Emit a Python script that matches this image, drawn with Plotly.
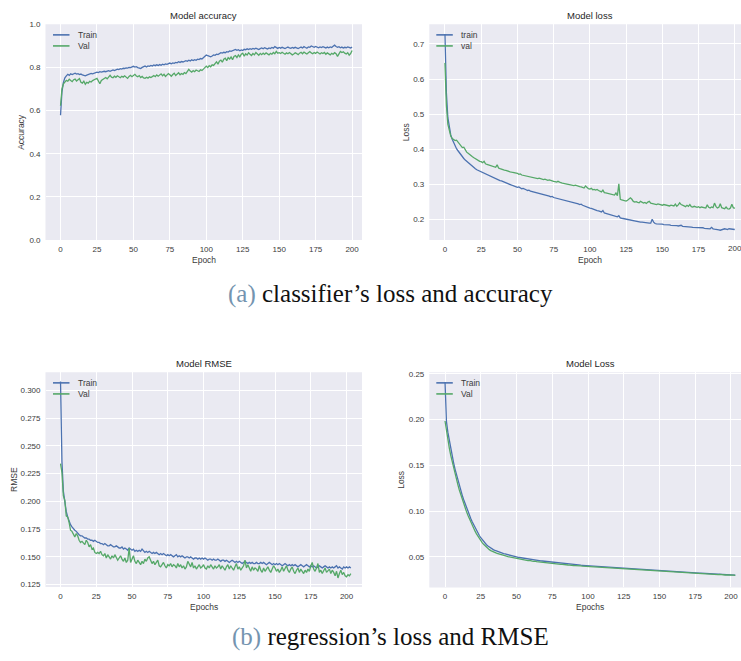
import plotly.graph_objects as go

W, H = 741, 661

# ---------------- data ----------------
acc_train = [
    0.578, 0.688, 0.731, 0.752, 0.761, 0.768, 0.763, 0.770, 0.767, 0.771,
    0.773, 0.769, 0.771, 0.767, 0.769, 0.765, 0.763, 0.761, 0.764, 0.766,
    0.769, 0.772, 0.770, 0.774, 0.775, 0.778, 0.776, 0.780, 0.778, 0.781,
    0.782, 0.780, 0.783, 0.785, 0.782, 0.786, 0.788, 0.785, 0.789, 0.792,
    0.790, 0.794, 0.792, 0.796, 0.795, 0.798, 0.797, 0.800, 0.799, 0.802,
    0.805, 0.801, 0.803, 0.799, 0.797, 0.795, 0.800, 0.803, 0.806, 0.802,
    0.807, 0.805, 0.809, 0.806, 0.811, 0.808, 0.812, 0.809, 0.813, 0.810,
    0.815, 0.812, 0.816, 0.814, 0.818, 0.820, 0.817, 0.821, 0.819, 0.823,
    0.821, 0.826, 0.823, 0.827, 0.825, 0.829, 0.831, 0.828, 0.833, 0.830,
    0.835, 0.832, 0.836, 0.833, 0.838, 0.836, 0.841, 0.839, 0.845, 0.850,
    0.857, 0.854, 0.851, 0.849, 0.853, 0.858, 0.856, 0.861, 0.859, 0.864,
    0.868, 0.866, 0.870, 0.868, 0.873, 0.871, 0.876, 0.874, 0.878, 0.880,
    0.883, 0.879, 0.882, 0.877, 0.881, 0.878, 0.884, 0.882, 0.886, 0.883,
    0.887, 0.884, 0.888, 0.885, 0.889, 0.886, 0.883, 0.887, 0.890, 0.886,
    0.891, 0.888, 0.885, 0.890, 0.887, 0.892, 0.889, 0.896, 0.891, 0.888,
    0.892, 0.889, 0.893, 0.890, 0.887, 0.891, 0.894, 0.890, 0.888, 0.892,
    0.889, 0.893, 0.891, 0.887, 0.891, 0.894, 0.890, 0.896, 0.892, 0.889,
    0.895, 0.893, 0.899, 0.896, 0.893, 0.897, 0.894, 0.891, 0.895, 0.892,
    0.896, 0.893, 0.890, 0.894, 0.891, 0.895, 0.892, 0.898, 0.903, 0.897,
    0.893, 0.896, 0.891, 0.894, 0.890, 0.893, 0.891, 0.895, 0.892, 0.890,
    0.894,
]
acc_val = [
    0.622, 0.700, 0.724, 0.733, 0.740, 0.736, 0.745, 0.739, 0.734, 0.743,
    0.746, 0.737, 0.741, 0.748, 0.731, 0.727, 0.736, 0.722, 0.731, 0.727,
    0.735, 0.732, 0.739, 0.741, 0.746, 0.749, 0.737, 0.724, 0.739, 0.745,
    0.751, 0.753, 0.747, 0.758, 0.763, 0.755, 0.752, 0.759, 0.754, 0.761,
    0.757, 0.752, 0.759, 0.755, 0.761, 0.756, 0.749, 0.758, 0.763, 0.757,
    0.764, 0.768, 0.760, 0.757, 0.762, 0.753, 0.758, 0.751, 0.749, 0.754,
    0.750, 0.756, 0.753, 0.759, 0.762, 0.757, 0.765, 0.759, 0.763, 0.770,
    0.761, 0.768, 0.758, 0.764, 0.771, 0.766, 0.759, 0.767, 0.773, 0.762,
    0.769, 0.775, 0.766, 0.772, 0.768, 0.776, 0.771, 0.779, 0.791, 0.783,
    0.778, 0.785, 0.780, 0.788, 0.783, 0.781, 0.789, 0.786, 0.792, 0.798,
    0.806, 0.799, 0.808, 0.803, 0.812, 0.809, 0.818, 0.826, 0.815, 0.829,
    0.834, 0.824, 0.838, 0.843, 0.831, 0.845, 0.839, 0.848, 0.836, 0.851,
    0.855, 0.846, 0.858, 0.849, 0.861, 0.866, 0.852, 0.863, 0.857, 0.868,
    0.861, 0.855, 0.864, 0.858, 0.869, 0.862, 0.856, 0.865, 0.859, 0.866,
    0.860, 0.867, 0.863, 0.858, 0.865, 0.861, 0.869, 0.863, 0.874, 0.866,
    0.868, 0.864, 0.870, 0.866, 0.861, 0.867, 0.863, 0.869, 0.865, 0.858,
    0.862, 0.868, 0.864, 0.859, 0.866, 0.870, 0.863, 0.871, 0.866, 0.862,
    0.868, 0.873, 0.867, 0.863, 0.869, 0.865, 0.871, 0.866, 0.862, 0.868,
    0.864, 0.869, 0.861, 0.867, 0.863, 0.858, 0.865, 0.861, 0.868, 0.863,
    0.851, 0.866, 0.874, 0.869, 0.872, 0.866, 0.862, 0.868, 0.857, 0.864,
    0.878,
]
cls_loss_train = [
    0.728, 0.560, 0.490, 0.458, 0.441, 0.429, 0.419, 0.410, 0.402, 0.396,
    0.390, 0.384, 0.379, 0.374, 0.370, 0.366, 0.362, 0.358, 0.355, 0.352,
    0.349, 0.345, 0.342, 0.340, 0.338, 0.335, 0.333, 0.331, 0.329, 0.327,
    0.325, 0.323, 0.322, 0.320, 0.318, 0.316, 0.315, 0.313, 0.311, 0.310,
    0.308, 0.306, 0.305, 0.303, 0.301, 0.300, 0.298, 0.297, 0.295, 0.294,
    0.292, 0.293, 0.290, 0.288, 0.289, 0.286, 0.285, 0.283, 0.284, 0.281,
    0.280, 0.279, 0.277, 0.278, 0.275, 0.274, 0.273, 0.274, 0.271, 0.270,
    0.269, 0.268, 0.267, 0.265, 0.266, 0.263, 0.262, 0.261, 0.260, 0.259,
    0.257, 0.256, 0.257, 0.254, 0.253, 0.252, 0.251, 0.250, 0.251, 0.248,
    0.247, 0.248, 0.245, 0.243, 0.244, 0.241, 0.239, 0.238, 0.237, 0.235,
    0.233, 0.232, 0.230, 0.229, 0.228, 0.226, 0.225, 0.223, 0.222, 0.226,
    0.219, 0.218, 0.217, 0.216, 0.214, 0.213, 0.212, 0.210, 0.209, 0.208,
    0.211, 0.205, 0.204, 0.203, 0.202, 0.201, 0.200, 0.199, 0.198, 0.197,
    0.197, 0.196, 0.195, 0.195, 0.194, 0.193, 0.193, 0.192, 0.192, 0.191,
    0.191, 0.190, 0.190, 0.201, 0.193, 0.189, 0.188, 0.188, 0.187, 0.189,
    0.187, 0.186, 0.186, 0.187, 0.185, 0.185, 0.184, 0.184, 0.183, 0.185,
    0.183, 0.182, 0.182, 0.184, 0.181, 0.181, 0.180, 0.180, 0.179, 0.181,
    0.179, 0.178, 0.178, 0.177, 0.178, 0.177, 0.176, 0.176, 0.177, 0.175,
    0.175, 0.176, 0.174, 0.174, 0.178, 0.174, 0.173, 0.173, 0.172, 0.171,
    0.170, 0.172, 0.173, 0.174, 0.173, 0.172, 0.174, 0.173, 0.172, 0.173,
    0.172,
]
cls_loss_val = [
    0.646, 0.525, 0.472, 0.449, 0.438, 0.431, 0.428, 0.425, 0.426, 0.421,
    0.415, 0.410, 0.405, 0.406, 0.398, 0.392, 0.389, 0.385, 0.381, 0.379,
    0.376, 0.373, 0.371, 0.369, 0.366, 0.365, 0.362, 0.366, 0.359, 0.357,
    0.356, 0.355, 0.353, 0.352, 0.350, 0.349, 0.356, 0.347, 0.345, 0.343,
    0.342, 0.341, 0.340, 0.338, 0.337, 0.336, 0.335, 0.334, 0.333, 0.334,
    0.332, 0.329, 0.330, 0.327, 0.326, 0.327, 0.324, 0.323, 0.322, 0.321,
    0.320, 0.321, 0.319, 0.318, 0.317, 0.318, 0.316, 0.315, 0.314, 0.315,
    0.313, 0.312, 0.313, 0.311, 0.310, 0.309, 0.308, 0.307, 0.309, 0.306,
    0.305, 0.304, 0.303, 0.304, 0.302, 0.301, 0.300, 0.299, 0.298, 0.297,
    0.298, 0.296, 0.295, 0.294, 0.293, 0.292, 0.290, 0.296, 0.291, 0.288,
    0.287, 0.289, 0.285, 0.286, 0.284, 0.286, 0.283, 0.280, 0.279, 0.284,
    0.277, 0.276, 0.275, 0.276, 0.273, 0.272, 0.271, 0.270, 0.276, 0.268,
    0.302, 0.258, 0.256, 0.255, 0.254, 0.253, 0.255, 0.258, 0.262, 0.258,
    0.252, 0.250, 0.251, 0.249, 0.248, 0.252, 0.250, 0.247, 0.249, 0.246,
    0.250, 0.252, 0.247, 0.246, 0.245, 0.244, 0.243, 0.245, 0.244, 0.242,
    0.241, 0.243, 0.242, 0.241, 0.240, 0.239, 0.241, 0.240, 0.239, 0.244,
    0.238, 0.242, 0.248, 0.243, 0.240, 0.239, 0.237, 0.241, 0.238, 0.243,
    0.237, 0.236, 0.238, 0.236, 0.235, 0.237, 0.234, 0.236, 0.235, 0.234,
    0.233, 0.242, 0.235, 0.233, 0.236, 0.234, 0.247, 0.238, 0.233, 0.235,
    0.245, 0.234, 0.232, 0.231, 0.236, 0.231, 0.230, 0.233, 0.244, 0.234,
    0.232,
]
rmse_train = [
    0.308, 0.236, 0.209, 0.198, 0.191, 0.186, 0.182, 0.179, 0.177, 0.175,
    0.174, 0.173, 0.171, 0.170, 0.169, 0.169, 0.168, 0.167, 0.167, 0.166,
    0.166, 0.165, 0.165, 0.164, 0.165, 0.164, 0.163, 0.163, 0.162, 0.162,
    0.161, 0.162, 0.161, 0.160, 0.160, 0.161, 0.160, 0.159, 0.159, 0.160,
    0.159, 0.158, 0.158, 0.159, 0.157, 0.158, 0.157, 0.156, 0.158, 0.157,
    0.156, 0.157, 0.155, 0.156, 0.155, 0.156, 0.155, 0.157, 0.155, 0.154,
    0.155, 0.154, 0.155, 0.154, 0.153, 0.154, 0.153, 0.154, 0.153, 0.152,
    0.153, 0.152, 0.153, 0.152, 0.151, 0.152, 0.151, 0.152, 0.151, 0.150,
    0.151, 0.152, 0.150, 0.151, 0.150, 0.151, 0.150, 0.149, 0.150, 0.150,
    0.149, 0.150, 0.149, 0.148, 0.149, 0.149, 0.148, 0.149, 0.148, 0.149,
    0.148, 0.149, 0.148, 0.147, 0.148, 0.148, 0.147, 0.148, 0.147, 0.147,
    0.148, 0.147, 0.146, 0.147, 0.147, 0.146, 0.147, 0.146, 0.145, 0.146,
    0.147, 0.146, 0.145, 0.146, 0.145, 0.146, 0.145, 0.144, 0.145, 0.146,
    0.145, 0.144, 0.145, 0.144, 0.145, 0.144, 0.144, 0.145, 0.144, 0.144,
    0.145, 0.144, 0.145, 0.144, 0.143, 0.144, 0.145, 0.144, 0.143, 0.144,
    0.143, 0.144, 0.143, 0.144, 0.143, 0.142, 0.143, 0.144, 0.143, 0.142,
    0.143, 0.142, 0.143, 0.142, 0.143, 0.142, 0.141, 0.142, 0.143, 0.142,
    0.141, 0.142, 0.143, 0.142, 0.141, 0.142, 0.141, 0.142, 0.141, 0.140,
    0.141, 0.142, 0.141, 0.140, 0.141, 0.142, 0.141, 0.140, 0.141, 0.140,
    0.141, 0.140, 0.141, 0.142, 0.140, 0.141, 0.140, 0.139, 0.141, 0.140,
    0.141, 0.140, 0.141, 0.140,
]
rmse_val = [
    0.234, 0.226, 0.205, 0.201, 0.187, 0.186, 0.181, 0.174, 0.173, 0.170,
    0.168, 0.171, 0.169, 0.165, 0.163, 0.164, 0.162, 0.161, 0.165, 0.163,
    0.159, 0.161, 0.157, 0.158, 0.154, 0.153, 0.154, 0.153, 0.155, 0.152,
    0.151, 0.153, 0.149, 0.152, 0.150, 0.148, 0.151, 0.149, 0.152, 0.150,
    0.147, 0.149, 0.151, 0.148, 0.146, 0.149, 0.145, 0.147, 0.158, 0.145,
    0.148, 0.151, 0.146, 0.144, 0.147, 0.145, 0.143, 0.146, 0.144, 0.148,
    0.146, 0.149, 0.150, 0.147, 0.144, 0.146, 0.143, 0.145, 0.147, 0.142,
    0.141, 0.143, 0.145, 0.142, 0.140, 0.143, 0.142, 0.144, 0.141, 0.143,
    0.142, 0.140, 0.144, 0.141, 0.143, 0.140, 0.142, 0.139, 0.141, 0.146,
    0.143, 0.141, 0.145, 0.140, 0.142, 0.139, 0.141, 0.143, 0.140, 0.141,
    0.143, 0.140, 0.139, 0.142, 0.140, 0.143, 0.141, 0.139, 0.142, 0.140,
    0.141, 0.143, 0.139, 0.142, 0.140, 0.138, 0.141, 0.143, 0.139, 0.142,
    0.140, 0.138, 0.141, 0.144, 0.139, 0.141, 0.138, 0.140, 0.142, 0.147,
    0.140, 0.143, 0.139, 0.137, 0.141, 0.138, 0.140, 0.139, 0.137, 0.142,
    0.138, 0.136, 0.140, 0.137, 0.139, 0.141, 0.138, 0.136, 0.139, 0.142,
    0.140, 0.137, 0.139, 0.136, 0.138, 0.141, 0.137, 0.139, 0.142, 0.138,
    0.136, 0.139, 0.141, 0.137, 0.135, 0.138, 0.140, 0.136, 0.139, 0.137,
    0.135, 0.138, 0.136, 0.139, 0.137, 0.142, 0.145, 0.139, 0.137, 0.140,
    0.144, 0.136, 0.138, 0.135, 0.137, 0.140, 0.136, 0.138, 0.139, 0.135,
    0.138, 0.136, 0.133, 0.137, 0.131, 0.135, 0.138, 0.134, 0.136, 0.133,
    0.132, 0.134, 0.133, 0.135,
]
reg_loss_train = [
    0.2410, 0.1980, 0.1860, 0.1765, 0.1680, 0.1600, 0.1528, 0.1460, 0.1398, 0.1338,
    0.1282, 0.1228, 0.1176, 0.1128, 0.1082, 0.1038, 0.0997, 0.0958, 0.0920, 0.0885,
    0.0851, 0.0819, 0.0789, 0.0760, 0.0734, 0.0710, 0.0688, 0.0668, 0.0650, 0.0634,
    0.0620, 0.0607, 0.0596, 0.0586, 0.0578, 0.0571, 0.0564, 0.0558, 0.0552, 0.0547,
    0.0542, 0.0537, 0.0533, 0.0528, 0.0524, 0.0520, 0.0517, 0.0513, 0.0510, 0.0506,
    0.0500, 0.0497, 0.0494, 0.0491, 0.0488, 0.0486, 0.0483, 0.0481, 0.0478, 0.0476,
    0.0473, 0.0471, 0.0469, 0.0466, 0.0464, 0.0462, 0.0460, 0.0458, 0.0456, 0.0454,
    0.0452, 0.0450, 0.0448, 0.0446, 0.0444, 0.0442, 0.0440, 0.0438, 0.0436, 0.0434,
    0.0433, 0.0431, 0.0429, 0.0428, 0.0426, 0.0425, 0.0423, 0.0422, 0.0420, 0.0419,
    0.0417, 0.0416, 0.0414, 0.0413, 0.0412, 0.0410, 0.0409, 0.0408, 0.0406, 0.0405,
    0.0403, 0.0401, 0.0400, 0.0399, 0.0398, 0.0397, 0.0395, 0.0394, 0.0393, 0.0392,
    0.0391, 0.0389, 0.0388, 0.0387, 0.0386, 0.0385, 0.0384, 0.0383, 0.0382, 0.0381,
    0.0380, 0.0379, 0.0378, 0.0377, 0.0376, 0.0375, 0.0374, 0.0373, 0.0372, 0.0371,
    0.0370, 0.0369, 0.0368, 0.0367, 0.0366, 0.0365, 0.0364, 0.0363, 0.0362, 0.0361,
    0.0360, 0.0359, 0.0358, 0.0357, 0.0356, 0.0355, 0.0354, 0.0353, 0.0352, 0.0351,
    0.0349, 0.0348, 0.0347, 0.0346, 0.0346, 0.0345, 0.0344, 0.0343, 0.0342, 0.0341,
    0.0340, 0.0339, 0.0338, 0.0337, 0.0337, 0.0336, 0.0335, 0.0334, 0.0333, 0.0332,
    0.0331, 0.0330, 0.0329, 0.0329, 0.0328, 0.0327, 0.0326, 0.0325, 0.0324, 0.0323,
    0.0322, 0.0321, 0.0321, 0.0320, 0.0319, 0.0318, 0.0317, 0.0316, 0.0315, 0.0314,
    0.0313, 0.0313, 0.0312, 0.0311, 0.0310, 0.0309, 0.0308, 0.0307, 0.0306, 0.0305,
    0.0304, 0.0304, 0.0303, 0.0302,
]
reg_loss_val = [
    0.1985, 0.1870, 0.1770, 0.1690, 0.1610, 0.1540, 0.1470, 0.1405, 0.1345, 0.1288,
    0.1232, 0.1180, 0.1130, 0.1083, 0.1038, 0.0995, 0.0955, 0.0917, 0.0880, 0.0846,
    0.0813, 0.0782, 0.0753, 0.0726, 0.0701, 0.0678, 0.0657, 0.0638, 0.0621, 0.0606,
    0.0592, 0.0580, 0.0570, 0.0561, 0.0553, 0.0548, 0.0541, 0.0536, 0.0530, 0.0526,
    0.0520, 0.0517, 0.0512, 0.0508, 0.0503, 0.0500, 0.0494, 0.0491, 0.0486, 0.0489,
    0.0481, 0.0478, 0.0476, 0.0471, 0.0469, 0.0466, 0.0469, 0.0462, 0.0460, 0.0463,
    0.0456, 0.0454, 0.0452, 0.0455, 0.0448, 0.0446, 0.0448, 0.0442, 0.0440, 0.0441,
    0.0436, 0.0434, 0.0435, 0.0431, 0.0429, 0.0430, 0.0426, 0.0425, 0.0426, 0.0422,
    0.0421, 0.0419, 0.0420, 0.0416, 0.0415, 0.0416, 0.0412, 0.0411, 0.0412, 0.0408,
    0.0407, 0.0406, 0.0407, 0.0403, 0.0402, 0.0403, 0.0399, 0.0398, 0.0399, 0.0396,
    0.0395, 0.0394, 0.0395, 0.0391, 0.0390, 0.0391, 0.0387, 0.0387, 0.0388, 0.0384,
    0.0383, 0.0383, 0.0384, 0.0380, 0.0379, 0.0380, 0.0377, 0.0376, 0.0377, 0.0373,
    0.0373, 0.0372, 0.0373, 0.0369, 0.0369, 0.0370, 0.0366, 0.0366, 0.0367, 0.0363,
    0.0363, 0.0362, 0.0363, 0.0359, 0.0359, 0.0360, 0.0356, 0.0356, 0.0357, 0.0353,
    0.0353, 0.0352, 0.0353, 0.0349, 0.0349, 0.0350, 0.0346, 0.0346, 0.0347, 0.0343,
    0.0343, 0.0342, 0.0343, 0.0340, 0.0339, 0.0340, 0.0337, 0.0337, 0.0338, 0.0334,
    0.0334, 0.0333, 0.0334, 0.0331, 0.0330, 0.0331, 0.0328, 0.0328, 0.0329, 0.0325,
    0.0325, 0.0324, 0.0325, 0.0322, 0.0322, 0.0323, 0.0319, 0.0319, 0.0320, 0.0317,
    0.0317, 0.0316, 0.0317, 0.0314, 0.0314, 0.0315, 0.0311, 0.0311, 0.0312, 0.0309,
    0.0309, 0.0308, 0.0309, 0.0306, 0.0306, 0.0307, 0.0303, 0.0303, 0.0304, 0.0301,
    0.0301, 0.0300, 0.0301, 0.0299,
]

x_ticks = [0, 25, 50, 75, 100, 125, 150, 175, 200]
acc_ticks = [0.0, 0.2, 0.4, 0.6, 0.8, 1.0]
cls_loss_ticks = [0.2, 0.3, 0.4, 0.5, 0.6, 0.7]
rmse_ticks = [0.125, 0.150, 0.175, 0.200, 0.225, 0.250, 0.275, 0.300]
reg_loss_ticks = [0.05, 0.10, 0.15, 0.20, 0.25]

titles = ["Model accuracy", "Model loss", "Model RMSE", "Model Loss"]
xlabels = ["Epoch", "Epoch", "Epochs", "Epochs"]
ylabels = ["Accuracy", "Loss", "RMSE", "Loss"]
legend_names = [["Train", "Val"], ["train", "val"], ["Train", "Val"], ["Train", "Val"]]
caption_a = "classifier’s loss and accuracy"
caption_b = "regression’s loss and RMSE"

# ---------------- style ----------------
BLUE = "#4C72B0"
GREEN = "#55A868"
BG = "#EAEAF2"
TXT = "#3b3b3b"
FONT = "Liberation Sans"


def px(x):
    return x / W


def py(y):
    return 1 - y / H


# panel boxes in pixels: left, right, top, bottom
boxes = [
    (45.5, 362, 20.5, 239.3),
    (429.3, 741, 20.5, 239.3),
    (45.5, 362, 373.3, 591),
    (429.3, 741, 373.3, 591.5),
]
xranges = [[-10.3, 206.8], [-10.8, 204.3], [-10.5, 210.8], [-11.0, 207.0]]
yranges = [[0.0, 1.0], [0.142, 0.756], [0.1229, 0.3164], [0.0167, 0.2518]]
yticks = [acc_ticks, cls_loss_ticks, rmse_ticks, reg_loss_ticks]
yfmt = [".1f", ".1f", ".3f", ".2f"]
series = [
    (acc_train, acc_val),
    (cls_loss_train, cls_loss_val),
    (rmse_train, rmse_val),
    (reg_loss_train, reg_loss_val),
]

fig = go.Figure()
annotations = []
shapes = []

for i in range(4):
    L, R, T, B = boxes[i]
    ax = "" if i == 0 else str(i + 1)
    tr, va = series[i]
    fig.add_trace(go.Scatter(
        x=list(range(len(tr))), y=tr, mode="lines",
        line=dict(color=BLUE, width=1.3), name=legend_names[i][0],
        xaxis="x" + ax, yaxis="y" + ax, showlegend=False))
    fig.add_trace(go.Scatter(
        x=list(range(len(va))), y=va, mode="lines",
        line=dict(color=GREEN, width=1.3), name=legend_names[i][1],
        xaxis="x" + ax, yaxis="y" + ax, showlegend=False))

    common = dict(showgrid=True, gridcolor="white", gridwidth=1, zeroline=False,
                  showline=False, ticks="", tickfont=dict(family=FONT, size=8, color=TXT),
                  fixedrange=True)
    xt_text = [str(t) for t in x_ticks]
    if i == 1:
        # drawn separately below (it runs past the page edge)
        xt_text[-1] = ""
    fig.update_layout(**{
        "xaxis" + ax: dict(domain=[px(L), px(R)], range=xranges[i], anchor="y" + ax,
                           tickvals=x_ticks, ticktext=xt_text, ticklabelstandoff=3,
                           **common),
        "yaxis" + ax: dict(domain=[py(B), py(T)], range=yranges[i], anchor="x" + ax,
                           tickvals=yticks[i], tickformat=yfmt[i], ticklabelstandoff=4,
                           **common),
    })
    shapes.append(dict(type="rect", xref="paper", yref="paper", layer="below",
                       x0=px(L), x1=px(R), y0=py(B), y1=py(T),
                       fillcolor=BG, line=dict(width=0)))

    cx = (L + R) / 2 if i in (0, 2) else 590
    annotations.append(dict(text=titles[i], x=px(cx), y=py(T - 8.5), xref="paper",
                            yref="paper", showarrow=False, xanchor="center", yanchor="middle",
                            font=dict(family=FONT, size=9.5, color="#262626")))
    annotations.append(dict(text=xlabels[i], x=px(cx), y=py(B + 20), xref="paper",
                            yref="paper", showarrow=False, xanchor="center", yanchor="middle",
                            font=dict(family=FONT, size=8.5, color=TXT)))
    ylx = [20.7, 406, 13.3, 401][i]
    annotations.append(dict(text=ylabels[i], x=px(ylx), y=py((T + B) / 2), xref="paper",
                            yref="paper", showarrow=False, xanchor="center", yanchor="middle",
                            textangle=-90, font=dict(family=FONT, size=8.5, color=TXT)))

    # legend (line handles + labels)
    lx0 = L + 7.5 if i in (0, 2) else L + 7
    for j, col in enumerate([BLUE, GREEN]):
        ly = T + 10.8 + j * 11.2
        shapes.append(dict(type="line", xref="paper", yref="paper",
                           x0=px(lx0), x1=px(lx0 + 16.5), y0=py(ly), y1=py(ly),
                           line=dict(color=col, width=1.6)))
        annotations.append(dict(text=legend_names[i][j], x=px(lx0 + 22.5), y=py(ly),
                                xref="paper", yref="paper", showarrow=False,
                                xanchor="left", yanchor="middle",
                                font=dict(family=FONT, size=8.5, color=TXT)))

# last tick label of the top-right panel runs past the page edge (cropped in the original)
annotations.append(dict(text=str(x_ticks[-1]), x=x_ticks[-1], xref="x2",
                        y=py(boxes[1][3] + 8.5), yref="paper", showarrow=False,
                        xanchor="center", yanchor="middle",
                        font=dict(family=FONT, size=8, color=TXT)))

CAP_BLUE = "#7494b0"
CAP_FONT = dict(family="Liberation Serif", size=25, color="#111111")
annotations.append(dict(
    text=f"<span style='color:{CAP_BLUE}'>(a)</span> {caption_a}",
    x=px(390), y=py(294), xref="paper", yref="paper", showarrow=False,
    xanchor="center", yanchor="middle", font=CAP_FONT))
annotations.append(dict(
    text=f"<span style='color:{CAP_BLUE}'>(b)</span> {caption_b}",
    x=px(390), y=py(641.5), xref="paper", yref="paper", showarrow=False,
    xanchor="center", yanchor="middle", font=CAP_FONT))

fig.update_layout(
    width=W, height=H, margin=dict(l=0, r=0, t=0, b=0),
    paper_bgcolor="white", plot_bgcolor="rgba(0,0,0,0)",
    shapes=shapes, annotations=annotations, showlegend=False,
)

fig.write_html("out.html", config={"displayModeBar": False})
